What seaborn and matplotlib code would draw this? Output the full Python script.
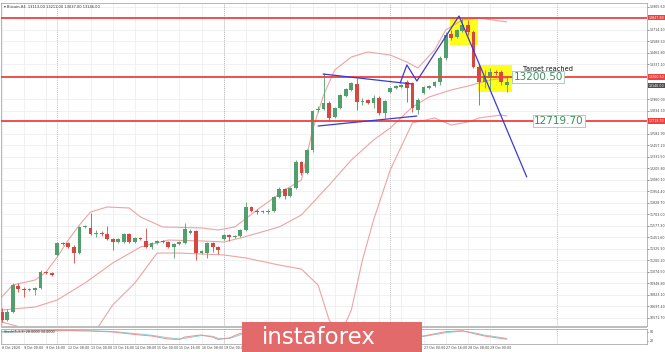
import numpy as np
import pandas as pd
import matplotlib
matplotlib.use("Agg")
import matplotlib.pyplot as plt
import matplotlib.transforms as mtransforms
from matplotlib.patches import Rectangle
import seaborn as sns

sns.set_style("white")
plt.rcParams["font.family"] = ["DejaVu Sans"]

# ---------------- data (Bitcoin H4, 8 Oct 2020 08:00 -> 29 Oct 2020) ----------------
opens = [10633, 10545, 10633, 10917, 10884, 10873, 10873, 10895, 11070, 11059,
         11256, 11387, 11387, 11343, 11277, 11561, 11551, 11485, 11496, 11485,
         11431, 11398, 11398, 11485, 11398, 11441, 11409, 11343, 11387, 11409,
         11398, 11343, 11376, 11387, 11496, 11518, 11277, 11277, 11387, 11343,
         11431, 11474, 11452, 11463, 11529, 11780, 11736, 11725, 11725, 11736,
         11889, 11977, 11900, 11988, 12272, 12152, 12403, 12840, 12851, 12917,
         12764, 12862, 12993, 13058, 13124, 12927, 12949, 12917, 12971, 12807,
         13037, 13080, 13091, 13146, 13135, 12840, 13026, 13080, 13102, 13146,
         13408, 13670, 13638, 13703, 13769, 13692, 13310, 13146, 13190, 13255,
         13255, 13113]
highs = [10676, 10660, 10949, 10949, 10906, 10900, 10906, 11092, 11081, 11070,
         11398, 11398, 11398, 11365, 11572, 11583, 11715, 11529, 11518, 11572,
         11441, 11441, 11496, 11496, 11452, 11452, 11551, 11398, 11420, 11420,
         11409, 11387, 11409, 11605, 11540, 11529, 11310, 11398, 11398, 11354,
         11485, 11485, 11474, 11540, 11835, 11790, 11758, 11747, 11758, 11900,
         11999, 11988, 11999, 12294, 12283, 12414, 12840, 12884, 13244, 12938,
         12873, 13015, 13080, 13146, 13190, 12971, 12960, 13004, 12993, 12949,
         13091, 13113, 13124, 13168, 13146, 12971, 13102, 13113, 13157, 13430,
         13692, 13714, 13725, 13845, 13823, 13714, 13343, 13277, 13299, 13277,
         13277, 13211]
lows = [10523, 10530, 10622, 10851, 10797, 10860, 10818, 10884, 11048, 11026,
        11245, 11365, 11332, 11168, 11267, 11551, 11474, 11452, 11463, 11420,
        11310, 11387, 11387, 11387, 11387, 11420, 11332, 11321, 11376, 11387,
        11332, 11223, 11365, 11376, 11485, 11201, 11267, 11223, 11288, 11267,
        11420, 11409, 11441, 11452, 11518, 11725, 11704, 11715, 11704, 11725,
        11878, 11867, 11889, 11977, 12130, 12141, 12381, 12818, 12840, 12731,
        12753, 12851, 12982, 13048, 12840, 12895, 12906, 12862, 12785, 12753,
        13026, 13069, 13080, 12927, 12818, 12796, 13015, 13069, 13091, 13113,
        13386, 13605, 13627, 13692, 13659, 13299, 12895, 13080, 13058, 13222,
        13113, 13037]
closes = [10545, 10633, 10928, 10884, 10873, 10884, 10895, 11070, 11059, 11037,
          11387, 11376, 11343, 11277, 11561, 11572, 11485, 11496, 11485, 11431,
          11398, 11431, 11485, 11398, 11441, 11431, 11343, 11387, 11409, 11398,
          11343, 11376, 11398, 11540, 11518, 11277, 11299, 11387, 11343, 11310,
          11474, 11452, 11463, 11529, 11780, 11736, 11725, 11736, 11736, 11889,
          11977, 11900, 11988, 12272, 12152, 12403, 12829, 12851, 12917, 12753,
          12862, 13004, 13069, 13135, 12927, 12938, 12917, 12971, 12807, 12938,
          13080, 13102, 13113, 13080, 12862, 12949, 13091, 13102, 13146, 13408,
          13659, 13627, 13714, 13769, 13692, 13310, 13146, 13211, 13255, 13244,
          13146, 13146]

# Bollinger bands (candle index, price)
upper_idx = [0, 2, 6, 8, 10, 12, 14, 16, 19, 23, 25, 29, 36, 39, 42, 46, 51, 54,
             56, 58, 60, 63, 66, 70, 73, 75, 78, 80, 83, 86, 91]
upper_val = [10797, 10928, 10982, 11070, 11234, 11419, 11583, 11725, 11780, 11769,
             11671, 11562, 11551, 11529, 11562, 11747, 11966, 12075, 12621, 13004,
             13277, 13419, 13474, 13441, 13364, 13299, 13496, 13714, 13823, 13845,
             13802]
mid_idx = [0, 6, 10, 15, 20, 25, 30, 36, 40, 43, 50, 54, 59, 63, 67, 70, 74, 77,
           81, 84, 88, 91]
mid_val = [10655, 10687, 10764, 10950, 11168, 11343, 11419, 11409, 11398, 11441,
           11562, 11693, 12020, 12294, 12512, 12643, 12873, 12982, 13059, 13102,
           13168, 13190]
lower_idx = [0, 4, 10, 17, 20, 24, 28, 32, 40, 44, 50, 54, 57, 59, 61, 63, 65, 67,
             70, 74, 78, 81, 84, 86, 90, 91]
lower_val = [10523, 10458, 10381, 10436, 10709, 10950, 11277, 11277, 11256, 11223,
             11146, 11102, 10928, 10545, 10381, 10655, 11201, 11638, 12184, 12698,
             12753, 12676, 12709, 12753, 12785, 12774]

# oscillator panel (candle index, value 0..100)
osc_idx = [0, 4, 9, 12, 16, 20, 24, 27, 30, 32, 33, 35, 36, 38, 39, 41, 43, 47,
           52, 59, 66, 72, 76, 80, 83, 85, 87, 91]
osc_main = [79, 83, 85, 87, 83, 77, 60, 50, 30, 27, 43, 53, 57, 43, 27, 37, 68, 83,
            90, 83, 70, 50, 50, 79, 85, 67, 50, 28]
osc_signal = [76, 81, 84, 86, 85, 80, 66, 55, 38, 30, 35, 47, 53, 48, 34, 33, 58, 80,
              88, 85, 74, 55, 47, 72, 83, 72, 56, 34]

time_labels = ["8 Oct 2020", "9 Oct 00:00", "9 Oct 16:00", "12 Oct 08:00",
               "13 Oct 00:00", "13 Oct 16:00", "14 Oct 08:00", "15 Oct 00:00",
               "15 Oct 16:00", "16 Oct 08:00", "19 Oct 00:00", "19 Oct 16:00",
               "20 Oct 08:00", "21 Oct 00:00", "21 Oct 16:00", "22 Oct 08:00",
               "23 Oct 00:00", "23 Oct 16:00", "26 Oct 08:00", "27 Oct 00:00",
               "27 Oct 16:00", "28 Oct 08:00", "29 Oct 00:00"]
week_starts = [10, 40, 70, 100]

price_ticks = [13965.60, 13714.20, 13588.50, 13462.80, 13337.10, 12960.00,
               12834.30, 12582.90, 12457.20, 12331.50, 12205.80, 12080.10,
               11954.40, 11828.70, 11703.00, 11577.30, 11451.60, 11325.90,
               11200.20, 11074.50, 10948.80, 10823.10, 10697.40, 10571.70]

levels = [13847.80, 13200.50, 12719.70]
boxes = [(80.8, 85.8, 13550, 13856), (85.8, 91.9, 13037, 13332)]
tri_top = ([57.9, 73.9], [13233, 13124])
tri_bot = ([57.0, 74.8], [12665, 12774])
zig_idx = [71.8, 73.0, 74.8, 82.4, 94.6]
zig_val = [13135, 13332, 13157, 13867, 12108]

# ---------------- figure ----------------
W, H = 665, 352
fig = plt.figure(figsize=(W / 100, H / 100), dpi=100)
fig.patch.set_facecolor("white")

def fr(x0, y0, x1, y1):
    return [x0 / W, 1 - y1 / H, (x1 - x0) / W, (y1 - y0) / H]

ax = fig.add_axes(fr(1, 3, 647, 326))
axo = fig.add_axes(fr(1, 328.5, 647, 343.5))

n = len(closes)
idx = np.arange(n)
df = pd.DataFrame({"i": idx, "o": opens, "h": highs, "l": lows, "c": closes})

ax.set_xlim(-0.13, 116.27)
ax.set_ylim(10479.7, 14009.1)

grid_c = "#ececec"
for t in price_ticks:
    ax.axhline(t, color=grid_c, lw=0.5, zorder=0)
for k in range(len(time_labels)):
    ax.axvline(k * 4, color=grid_c, lw=0.5, zorder=0)
    axo.axvline(k * 4, color=grid_c, lw=0.5, zorder=0)
for w in week_starts:
    ax.axvline(w, color="#a8a8a8", lw=0.6, ls=(0, (1, 1.5)), zorder=0.5)
    axo.axvline(w, color="#a8a8a8", lw=0.6, ls=(0, (1, 1.5)), zorder=0.5)

for (x0, x1, y0, y1) in boxes:
    ax.add_patch(Rectangle((x0, y0), x1 - x0, y1 - y0, color="#ffff1a", zorder=1, lw=0))

band_c = "#eea3a3"
sns.lineplot(x=upper_idx, y=upper_val, ax=ax, color=band_c, lw=0.8, zorder=2)
sns.lineplot(x=mid_idx, y=mid_val, ax=ax, color=band_c, lw=0.8, zorder=2)
sns.lineplot(x=lower_idx, y=lower_val, ax=ax, color=band_c, lw=0.8, zorder=2)

green, red = "#51a06b", "#d8473f"
cols = np.where(df["c"] >= df["o"], green, red)
ax.vlines(df["i"], df["l"], df["h"], colors=cols, lw=0.6, zorder=3)
body_h = np.maximum((df["c"] - df["o"]).abs(), 12)
body_b = np.minimum(df["c"], df["o"])
ax.bar(df["i"], body_h, bottom=body_b, width=0.68, color=cols, lw=0, zorder=4)

for lv in levels:
    ax.axhline(lv, color="#f04040", lw=1.3, zorder=5)

blue = "#3a3ad6"
ax.plot(*tri_top, color=blue, lw=0.9, zorder=6)
ax.plot(*tri_bot, color=blue, lw=0.9, zorder=6)
ax.plot(zig_idx, zig_val, color=blue, lw=0.9, zorder=6)

ax.text(93.9, 13288, "Target reached", fontsize=4.8, color="#111111",
        va="center", ha="left", zorder=7)
ax.text(92.2, 13200.5, "13200.50", fontsize=7.5, color="#3c8f5c", va="center",
        ha="left", zorder=7,
        bbox=dict(boxstyle="square,pad=0.12", fc="white", ec="#9cc8ac", lw=0.6))
ax.text(95.9, 12719.7, "12719.70", fontsize=7.5, color="#3c8f5c", va="center",
        ha="left", zorder=7,
        bbox=dict(boxstyle="square,pad=0.12", fc="white", ec="#9cc8ac", lw=0.6))

ax.text(0.004, 0.995, "\u25be Bitcoin,H4  %.2f %.2f %.2f %.2f" % (opens[-1], highs[-1], lows[-1], closes[-1]),
        transform=ax.transAxes, fontsize=2.6, color="#333333", va="top", ha="left")

# right price axis
ax.yaxis.tick_right()
ax.set_yticks(price_ticks)
ax.set_yticklabels(["%.2f" % t for t in price_ticks], fontsize=2.3, color="#444444")
ax.tick_params(axis="y", length=1.2, width=0.4, pad=0.8, colors="#444444")
ax.set_xticks([])
for s in ax.spines.values():
    s.set_color("#9a9a9a"); s.set_linewidth(0.5)

trans = mtransforms.blended_transform_factory(ax.transAxes, ax.transData)
for lv in levels:
    ax.text(1.002, lv, "%.2f" % lv, transform=trans, fontsize=2.3, color="white",
            va="center", ha="left", zorder=8,
            bbox=dict(boxstyle="square,pad=0.2", fc="#f04040", ec="none"))
ax.text(1.002, closes[-1] - 40, "%.2f" % closes[-1], transform=trans, fontsize=2.3,
        color="white", va="center", ha="left", zorder=8,
        bbox=dict(boxstyle="square,pad=0.2", fc="#505050", ec="none"))
ax.set_ylabel(""); ax.set_xlabel("")

# oscillator panel
axo.set_xlim(ax.get_xlim())
axo.set_ylim(0, 100)
sns.lineplot(x=osc_idx, y=osc_signal, ax=axo, color="#7fd6d0", lw=0.7)
sns.lineplot(x=osc_idx, y=osc_main, ax=axo, color="#ef8f8f", lw=0.7)
axo.text(0.004, 0.93, "Stoch(5,3,3) %.4f %.4f" % (osc_main[-1], osc_signal[-1]),
         transform=axo.transAxes, fontsize=2.4, color="#333333", va="top", ha="left")
axo.yaxis.tick_right()
axo.set_yticks([80, 20])
axo.set_yticklabels(["80", "20"], fontsize=2.3, color="#444444")
axo.set_xticks([k * 4 for k in range(len(time_labels))])
axo.set_xticklabels(time_labels, fontsize=2.3, color="#444444", ha="left")
axo.tick_params(axis="x", length=1.0, width=0.4, pad=0.8)
axo.tick_params(axis="y", length=1.0, width=0.4, pad=0.8)
axo.set_ylabel(""); axo.set_xlabel("")
for s in axo.spines.values():
    s.set_color("#9a9a9a"); s.set_linewidth(0.5)

# separator between panels
fig.add_artist(Rectangle((1 / W, 1 - 328 / H), 646 / W, 1.6 / H, transform=fig.transFigure,
                         color="#bdbdbd", lw=0))

# instaforex logo
fig.add_artist(Rectangle((242 / W, 0), 180 / W, 30 / H, transform=fig.transFigure,
                         color="#e36a6a", lw=0, zorder=10))
fig.text(262 / W, 1 - 337 / H, "instaforex", fontsize=16.5, color="white",
         va="center", ha="left", zorder=11)

fig.savefig("out.png", dpi=100, facecolor="white")
